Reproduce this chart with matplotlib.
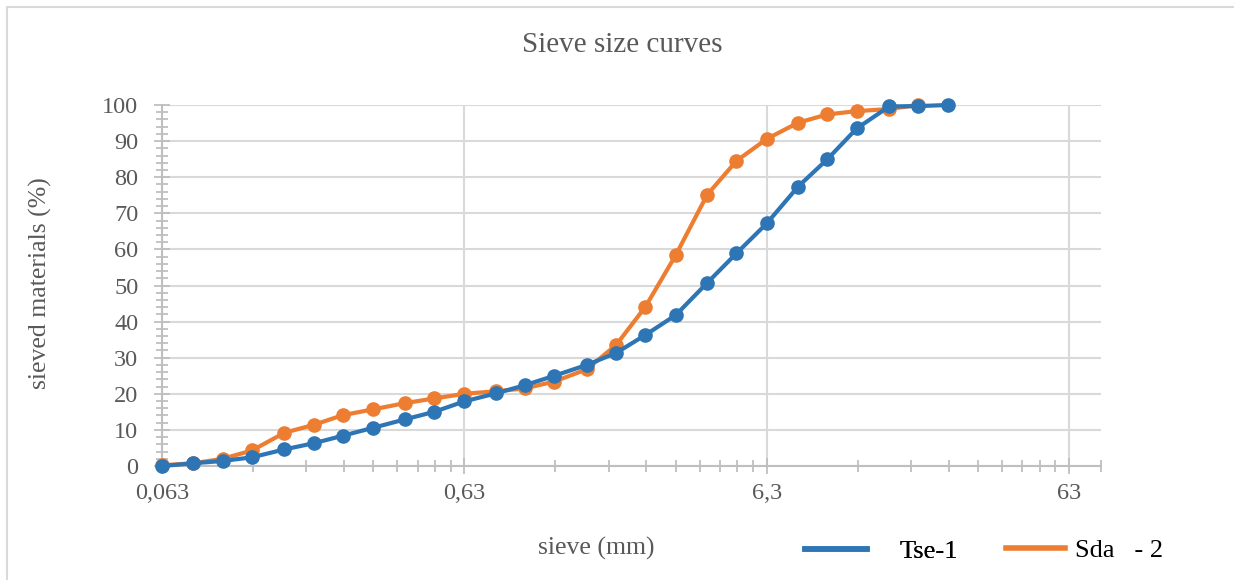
import numpy as np
import matplotlib
matplotlib.use("Agg")
import matplotlib.pyplot as plt
from matplotlib.ticker import FixedLocator, NullFormatter
from matplotlib.lines import Line2D
from matplotlib.patches import Rectangle

# ---- data ----
sieve_tse = [0.063, 0.08, 0.1, 0.125, 0.16, 0.2, 0.25, 0.315, 0.4, 0.5, 0.63, 0.8, 1.0,
             1.25, 1.6, 2.0, 2.5, 3.15, 4.0, 5.0, 6.3, 8.0, 10.0, 12.5, 16.0, 20.0, 25.0]
tse_1 = [0.0, 0.75, 1.4, 2.4, 4.6, 6.3, 8.4, 10.6, 12.9, 15.0, 17.9, 20.1, 22.4,
         25.0, 28.0, 31.3, 36.3, 41.8, 50.7, 58.9, 67.2, 77.4, 85.0, 93.5, 99.6, 99.7, 100.0]
sieve_sda = [0.063, 0.08, 0.1, 0.125, 0.16, 0.2, 0.25, 0.315, 0.4, 0.5, 0.63, 0.8, 1.0,
             1.25, 1.6, 2.0, 2.5, 3.15, 4.0, 5.0, 6.3, 8.0, 10.0, 12.5, 16.0, 20.0]
sda_2 = [0.2, 0.75, 2.0, 4.3, 9.2, 11.4, 14.1, 15.7, 17.4, 18.7, 20.0, 20.7, 21.5,
         23.4, 26.8, 33.5, 44.1, 58.4, 75.1, 84.5, 90.6, 95.1, 97.4, 98.3, 98.9, 100.0]
x_major = [0.063, 0.63, 6.3, 63]
x_labels = ["0,063", "0,63", "6,3", "63"]
y_major = list(range(0, 101, 10))

BLUE = "#2E75B6"
ORANGE = "#ED7D31"
GRAY_TXT = "#595959"
GRID = "#D9D9D9"
AXC = "#BFBFBF"
SERIF = ["Liberation Serif", "DejaVu Serif"]

plt.rcParams['font.family'] = SERIF

fig = plt.figure(figsize=(12.34, 5.8), dpi=100)
fig.patches.append(Rectangle((7/1234, -0.1), 1.2, 1 - 7/580 + 0.1, transform=fig.transFigure,
                             fill=False, edgecolor="#D9D9D9", lw=1.5))
ax = fig.add_axes([162/1234, 1 - 466/580, (1101 - 162)/1234, (466 - 105)/580])

ax.plot(sieve_tse, tse_1, color=BLUE, lw=3, marker="o", ms=9.5, zorder=4, label="Tse-1", clip_on=False)
ax.plot(sieve_sda, sda_2, color=ORANGE, lw=3, marker="o", ms=9.5, zorder=3, label="Sda   - 2", clip_on=False)

ax.set_xscale("log")
ax.set_xlim(0.063, 80.3)
ax.set_ylim(0, 100)

ax.xaxis.set_major_locator(FixedLocator(x_major))
ax.set_xticklabels(x_labels)
minor = []
for m in [0.063, 0.63, 6.3]:
    minor += [m * k for k in range(2, 10)]
minor.append(80.3)
ax.xaxis.set_minor_locator(FixedLocator(minor))
ax.xaxis.set_minor_formatter(NullFormatter())
ax.yaxis.set_major_locator(FixedLocator(y_major))
ax.yaxis.set_minor_locator(FixedLocator([v for v in range(0, 101, 2) if v % 10]))

ax.grid(True, which="major", color=GRID, lw=1.5, zorder=0)
ax.set_axisbelow(True)
for s in ["top", "right"]:
    ax.spines[s].set_visible(False)
for s in ["left", "bottom"]:
    ax.spines[s].set_color(AXC)
    ax.spines[s].set_linewidth(1.5)

ax.tick_params(axis="both", which="both", direction="inout", color=AXC, width=1.3,
               labelcolor=GRAY_TXT, labelsize=17.5)
ax.tick_params(axis="x", which="major", length=11, pad=7)
ax.tick_params(axis="x", which="minor", length=8)
ax.tick_params(axis="y", which="major", length=12, pad=11)
ax.tick_params(axis="y", which="minor", length=9)

fig.text(622/1234, 1 - 45/580, "Sieve size curves", ha="center", va="center",
         fontsize=21, color=GRAY_TXT)
fig.text(40/1234, 1 - 283/580, "sieved materials (%)", ha="center", va="center",
         rotation=90, fontsize=18.5, color=GRAY_TXT)
fig.text(596/1234, 1 - 548/580, "sieve (mm)", ha="center", va="center",
         fontsize=18.5, color=GRAY_TXT)

leg1 = fig.legend([Line2D([], [], color=BLUE, lw=4)], ["Tse-1"], loc="center left",
                  bbox_to_anchor=(781/1234, 1 - 551/580), frameon=False,
                  fontsize=19, handlelength=2.35, handletextpad=1.25, labelcolor="black")
fig.add_artist(leg1)
fig.legend([Line2D([], [], color=ORANGE, lw=4)], ["Sda   - 2"], loc="center left",
           bbox_to_anchor=(982/1234, 1 - 550/580), frameon=False,
           fontsize=19, handlelength=2.25, handletextpad=0.38, labelcolor="black")

fig.savefig("out.png", dpi=100)
